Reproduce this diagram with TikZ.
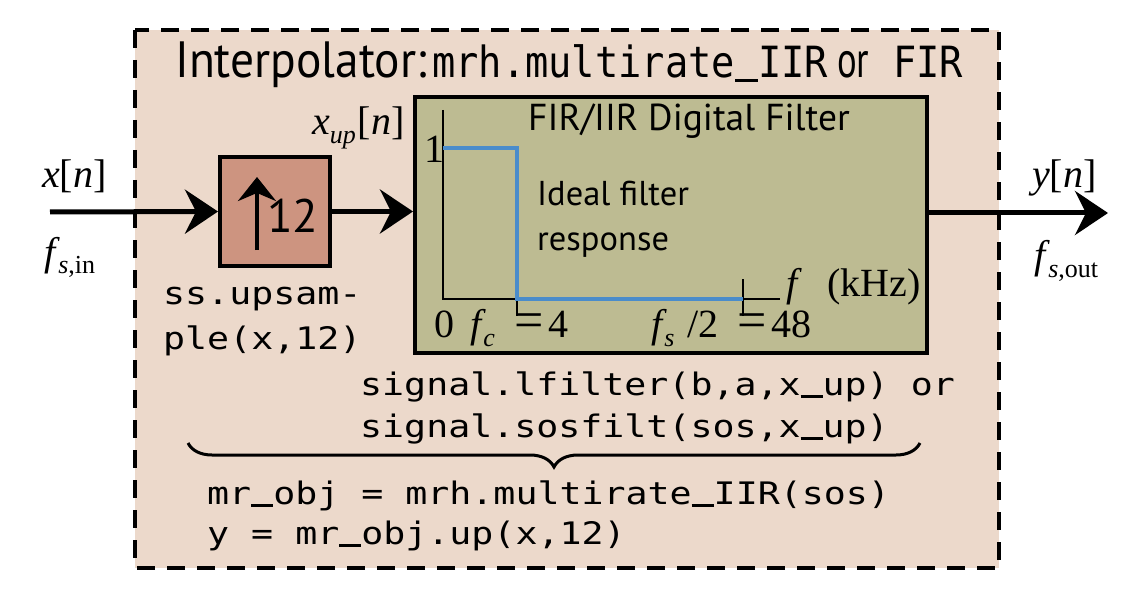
\documentclass[tikz,border=0pt]{standalone}
\usepackage{fontspec}
\setmainfont{Liberation Serif}
\newfontfamily\sansf{PT Sans}
\newfontfamily\tsansf[FakeStretch=0.93]{PT Sans}
\newfontfamily\orsansf[FakeStretch=0.72]{PT Sans}
\newfontfamily\codef[FakeStretch=1.18]{DejaVu Sans Mono}
\newfontfamily\tcodef[FakeStretch=0.9]{DejaVu Sans Mono}
\usetikzlibrary{arrows.meta,decorations.pathreplacing}
\definecolor{bgpink}{HTML}{ECD9CB}
\definecolor{filtcol}{HTML}{BDBB92}
\definecolor{upcol}{HTML}{CD9480}
\definecolor{respblue}{HTML}{4A8CCB}
\newcommand\sbs[1]{\raisebox{-9pt}{\fontsize{26}{26}\selectfont #1}}
\newcommand\mth{\fontsize{40}{40}\selectfont}
\newcommand\bigeq{{\fontsize{52}{52}\selectfont =}}
\newcommand\us{\sbox0{x}\rlap{\rule[-0.1em]{\wd0}{0.085em}}\hspace{\wd0}}
\begin{document}
\begin{tikzpicture}[x=1pt,y=-1pt,
  lbl/.style={inner sep=0pt, anchor=base west},
  sig/.style={line width=5pt, -{Stealth[length=33pt,width=44pt,inset=11pt]}},
  blockbox/.style={draw=black, line width=4pt, inner sep=0pt},
  codetxt/.style={lbl, font=\codef\fontsize{31}{31}\selectfont},
  mathtxt/.style={lbl, font=\mth}]
\useasboundingbox (0,0) rectangle (1132,604);
% outer dashed interpolator box
\draw[fill=bgpink, line width=4pt, dash pattern=on 18pt off 12pt] (135,30) rectangle (999,568);
% title
\node[lbl, font=\tsansf\fontsize{51}{51}\selectfont] (t1) at (175,78) {Interpolator:};
\node[lbl, font=\tcodef\fontsize{43}{43}\selectfont] (t2) at (432,78) {mrh.multirate\us IIR};
\node[lbl, font=\orsansf\fontsize{51}{51}\selectfont] (t3) at (837,78) {or};
\node[lbl, font=\tcodef\fontsize{43}{43}\selectfont] (t4) at (893,78) {FIR};
% blocks
\node[blockbox, fill=upcol, minimum width=110pt, minimum height=109pt] (up) at (275,211.5) {};
\node[blockbox, fill=filtcol, minimum width=512pt, minimum height=256pt] (filt) at (671,225) {};
% up arrow inside upsampler
\coordinate (ua0) at (257,250);
\coordinate (ua1) at (257,177);
\draw[line width=4pt, -{Stealth[length=24pt,width=38pt,inset=8pt]}] (ua0) -- (ua1);
\node[lbl, font=\sansf\fontsize{47}{47}\selectfont] (twelve) at (267,233) {12};
% signal arrows
\coordinate (in) at (50,212);
\coordinate (out) at (1108,213);
\draw[sig] (in) -- (up.west);
\draw[sig] (up.east) -- (up.east -| filt.west);
\draw[sig] (filt.east |- out) -- (out);
% filter label
\node[lbl, font=\sansf\fontsize{37.5}{37.5}\selectfont] (ftitle) at (528,131) {FIR/IIR Digital Filter};
\node[lbl, font=\sansf\fontsize{34.5}{34.5}\selectfont] (ideal) at (537,206) {Ideal filter};
\node[lbl, font=\sansf\fontsize{34.5}{34.5}\selectfont] (resp) at (537,251) {response};
% plot axes
\draw[line width=1.5pt] (443,110) -- (443,299) -- (780,299);
\draw[line width=1.5pt] (743,279) -- (743,316);
\draw[line width=1.5pt] (517,299) -- (517,316);
\draw[respblue, line width=3.5pt] (443,148) -- (517,148) -- (517,299) -- (743,299);
% plot labels
\node[inner sep=0pt, anchor=base, font=\mth] (one) at (434,163) {1};
\node[inner sep=0pt, anchor=base, font=\mth] (zero) at (444,337) {0};
\node[mathtxt] (fc) at (470,337) {\itshape f\kern2pt\sbs{c}};
\node[mathtxt] (fceq) at (514,337) {\bigeq\kern5pt 4};
\node[mathtxt] (fs) at (651,337) {\itshape f\kern2pt\sbs{s}};
\node[mathtxt] (fs2) at (687,337) {/2};
\node[mathtxt] (fseq) at (737,337) {\bigeq\kern5pt 48};
\node[mathtxt] (faxis) at (786,296) {\itshape f};
\node[mathtxt] (khz) at (827,296) {(kHz)};
% signal labels
\node[mathtxt] (xn) at (42,188) {{\itshape x}[{\itshape n}]};
\node[mathtxt] (fsin) at (44,265) {{\itshape f}\kern3pt\sbs{{\itshape s},in}};
\node[mathtxt] (xup) at (312,135) {{\itshape x}\sbs{\itshape up}\kern2pt[{\itshape n}]};
\node[mathtxt] (yn) at (1032,188) {{\itshape y}[{\itshape n}]};
\node[mathtxt] (fsout) at (1034,268) {{\itshape f}\kern3pt\sbs{{\itshape s},out}};
% code labels
\node[codetxt] (ups1) at (163,304) {ss.upsam-};
\node[codetxt] (ups2) at (163,349) {ple(x,12)};
\node[codetxt] (sig1) at (360,395) {signal.lfilter(b,a,x\us up) or};
\node[codetxt] (sig2) at (360,437) {signal.sosfilt(sos,x\us up)};
\coordinate (brR) at (920,443);
\coordinate (brL) at (188,443);
\draw[line width=3pt, decorate, decoration={brace, amplitude=24pt}] (brR) -- (brL);
\node[codetxt] (mr1) at (207,504) {mr\us obj = mrh.multirate\us IIR(sos)};
\node[codetxt] (mr2) at (207,544) {y = mr\us obj.up(x,12)};
\end{tikzpicture}
\end{document}
